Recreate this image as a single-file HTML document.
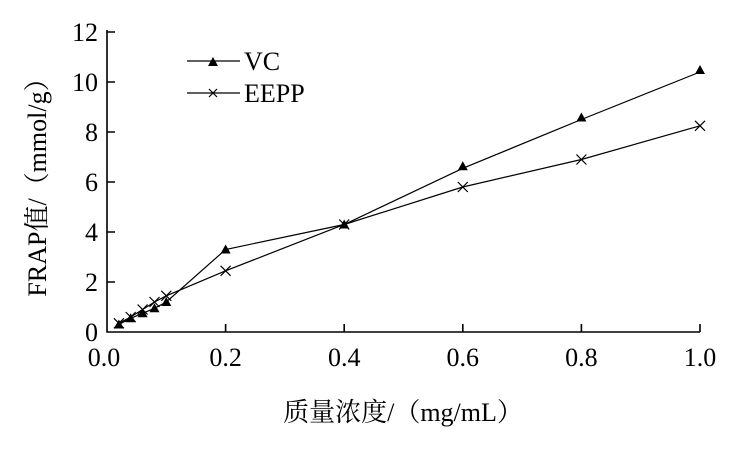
<!DOCTYPE html>
<html><head><meta charset="utf-8"><style>body{margin:0;background:#fff}svg text{font-family:"Liberation Serif","Noto Serif CJK SC",serif}</style></head><body>
<svg width="734" height="448" xmlns="http://www.w3.org/2000/svg">
<rect width="734" height="448" fill="#fff"/>
<g stroke="#000" stroke-width="1.6" fill="none">
<path d="M107,30 V332 H700"/>
<path d="M107,32h8M107,82h8M107,132h8M107,182h8M107,232h8M107,282h8"/>
<path d="M225.6,332v-8M344.2,332v-8M462.8,332v-8M581.4,332v-8M700,332v-8"/>
</g>
<g font-size="26" text-anchor="end" fill="#000">
<text x="98" y="41">12</text><text x="98" y="91">10</text><text x="98" y="141">8</text><text x="98" y="191">6</text><text x="98" y="241">4</text><text x="98" y="291">2</text><text x="98" y="341">0</text>
</g>
<g font-size="26" text-anchor="middle" fill="#000">
<text x="104" y="366">0.0</text><text x="225.6" y="366">0.2</text><text x="344.2" y="366">0.4</text><text x="462.8" y="366">0.6</text><text x="581.4" y="366">0.8</text><text x="700" y="366">1.0</text>
<text x="403" y="421">质量浓度/（mg/mL）</text>
<text transform="translate(46,181) rotate(-90)">FRAP值/（mmol/g）</text>
</g>
<polyline fill="none" stroke="#000" stroke-width="1.2" points="118.9,324.5 130.7,318.3 142.6,313.3 154.5,308.3 166.3,302 225.6,249.5 344.2,224.5 462.8,168.3 581.4,119.5 700,72"/>
<polyline fill="none" stroke="#000" stroke-width="1.2" points="118.9,323.3 130.7,317 142.6,309.5 154.5,302 166.3,295.8 225.6,270.8 344.2,224.5 462.8,187 581.4,159.5 700,125.8"/>
<g fill="#000">
<path d="M0,-5 L5,4 L-5,4Z" transform="translate(118.9,324.5)"/>
<path d="M0,-5 L5,4 L-5,4Z" transform="translate(130.7,318.3)"/>
<path d="M0,-5 L5,4 L-5,4Z" transform="translate(142.6,313.3)"/>
<path d="M0,-5 L5,4 L-5,4Z" transform="translate(154.5,308.3)"/>
<path d="M0,-5 L5,4 L-5,4Z" transform="translate(166.3,302)"/>
<path d="M0,-5 L5,4 L-5,4Z" transform="translate(225.6,249.5)"/>
<path d="M0,-5 L5,4 L-5,4Z" transform="translate(344.2,224.5)"/>
<path d="M0,-5 L5,4 L-5,4Z" transform="translate(462.8,166.3)"/>
<path d="M0,-5 L5,4 L-5,4Z" transform="translate(581.4,117.5)"/>
<path d="M0,-5 L5,4 L-5,4Z" transform="translate(700,70)"/>
<path d="M0,-5 L5,4 L-5,4Z" transform="translate(213,62)"/>
</g>
<g stroke="#000" stroke-width="1.2" fill="none">
<path d="M-5,-5L5,5M-5,5L5,-5" transform="translate(118.9,323.3)"/>
<path d="M-5,-5L5,5M-5,5L5,-5" transform="translate(130.7,317)"/>
<path d="M-5,-5L5,5M-5,5L5,-5" transform="translate(142.6,309.5)"/>
<path d="M-5,-5L5,5M-5,5L5,-5" transform="translate(154.5,302)"/>
<path d="M-5,-5L5,5M-5,5L5,-5" transform="translate(166.3,295.8)"/>
<path d="M-5,-5L5,5M-5,5L5,-5" transform="translate(225.6,270.8)"/>
<path d="M-5,-5L5,5M-5,5L5,-5" transform="translate(344.2,224.5)"/>
<path d="M-5,-5L5,5M-5,5L5,-5" transform="translate(462.8,187)"/>
<path d="M-5,-5L5,5M-5,5L5,-5" transform="translate(581.4,159.5)"/>
<path d="M-5,-5L5,5M-5,5L5,-5" transform="translate(700,125.8)"/>
<path d="M187,61H240M187,93H240"/>
<path d="M-4,-4L4,4M-4,4L4,-4" transform="translate(213,93)"/>
</g>
<g font-size="26" fill="#000"><text x="244" y="70">VC</text><text x="244" y="102">EEPP</text></g>
</svg>
</body></html>
